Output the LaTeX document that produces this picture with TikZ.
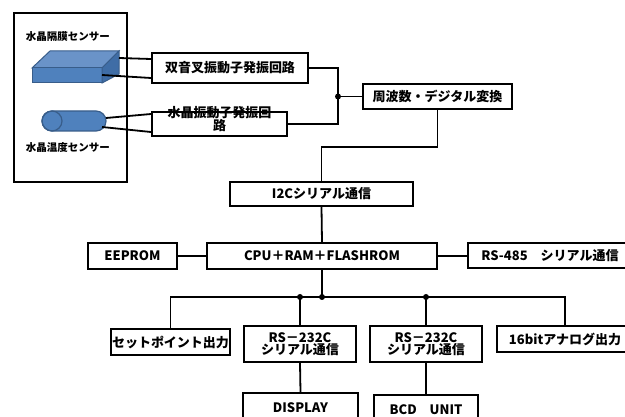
\documentclass[tikz,border=0pt]{standalone}
\usepackage{fontspec}
\setmainfont{Noto Sans CJK JP}
\definecolor{sensorblue}{HTML}{4F81BD}
\definecolor{sensortop}{HTML}{6A93C8}
\definecolor{sensorside}{HTML}{3F6DA6}
\definecolor{sensoredge}{HTML}{385D8A}
\tikzset{
  blk/.style={draw, line width=2pt, inner sep=0pt, font=\fontsize{13}{15}\selectfont\bfseries},
  wire/.style={line width=1.8pt},
  jdot/.style={circle, fill, inner sep=0pt, minimum size=6pt},
}
\begin{document}
\begin{tikzpicture}[x=1pt, y=-1pt]
  \useasboundingbox (0,0) rectangle (625,417);
  \clip (0,0) rectangle (625,417);
  \fill[white] (0,0) rectangle (625,417);

  % sensor housing
  \draw[line width=2pt] (14,13) rectangle (127,182);
  \node (lblDia) at (68,37) {\fontsize{10.5}{12}\selectfont\bfseries 水晶隔膜センサー};
  \node (lblTmp) at (68,148) {\fontsize{10.5}{12}\selectfont\bfseries 水晶温度センサー};

  % diaphragm sensor (flat block)
  \filldraw[fill=sensortop, draw=sensoredge, line width=1pt] (32,68) -- (50,51) -- (119,51) -- (102,68) -- cycle;
  \filldraw[fill=sensorblue, draw=sensoredge, line width=1pt] (32,68) rectangle (102,83);
  \filldraw[fill=sensorside, draw=sensoredge, line width=1pt] (102,68) -- (119,51) -- (119,74) -- (102,83) -- cycle;
  \coordinate (diaA) at (119,58);
  \coordinate (diaB) at (102,75);

  % temperature sensor (cylinder)
  \filldraw[fill=sensorblue, draw=sensoredge, line width=1.2pt] (52,111) -- (96,111)
    arc[start angle=-90, end angle=90, radius=10] -- (52,131)
    arc[start angle=90, end angle=270, radius=10] -- cycle;
  \draw[sensoredge, line width=1.2pt] (52,121) ellipse[x radius=10, y radius=10];
  \coordinate (tmpA) at (106,118);
  \coordinate (tmpB) at (102,127);

  % blocks
  \node[blk, minimum width=156, minimum height=30] (osc1) at (230,68) {双音叉振動子発振回路};
  \node[blk, minimum width=135, minimum height=24] (osc2) at (219.5,124)
    {\smash{\begin{tabular}{@{}c@{}}水晶振動子発振回\\[-3pt]路\end{tabular}}};
  \node[blk, minimum width=149, minimum height=25] (fdc) at (437.5,96.5) {周波数・デジタル変換};
  \node[blk, minimum width=183, minimum height=24] (i2c) at (321.5,194) {I2Cシリアル通信};
  \node[blk, minimum width=230, minimum height=26] (cpu) at (322,256) {CPU＋RAM＋FLASHROM};
  \node[blk, minimum width=89, minimum height=26] (eeprom) at (132.5,256) {EEPROM};
  \node[blk, minimum width=164, minimum height=25] (rs485) at (550,256) {RS-485　シリアル通信};
  \node[blk, minimum width=119, minimum height=26] (setp) at (170.5,342) {セットポイント出力};
  \node[blk, minimum width=112, minimum height=36, align=center] (rsA) at (300,344) {RS－232C\\[-3pt]シリアル通信};
  \node[blk, minimum width=112, minimum height=36, align=center] (rsB) at (426,344) {RS－232C\\[-3pt]シリアル通信};
  \node[blk, minimum width=136, minimum height=26] (anlg) at (565,339) {16bitアナログ出力};
  \node[blk, minimum width=115, minimum height=30] (disp) at (300.5,408) {DISPLAY};
  \node[blk, minimum width=104, minimum height=30] (bcd) at (426,410) {BCD　UNIT};

  % sensor leads
  \draw[wire] (diaA) -- ([yshift=9pt]osc1.west);
  \draw[wire] (diaB) -- ([yshift=-10pt]osc1.west);
  \draw[wire] (tmpA) -- ([yshift=10pt]osc2.west);
  \draw[wire] (tmpB) -- ([yshift=-8pt]osc2.west);

  % oscillators to converter
  \coordinate (jOsc) at (338,96.5);
  \draw[wire] (osc1.east) -| (jOsc |- osc2.east) -- (osc2.east);
  \draw[wire] (jOsc) -- (fdc.west);
  \node[jdot] (dOsc) at (jOsc) {};

  % converter down to the CPU
  \draw[wire] (fdc.south) -- ++(0,37) -| (i2c.north);
  \draw[wire] (i2c.south) -- (cpu.north);
  \draw[wire] (eeprom.east) -- (cpu.west);
  \draw[wire] (cpu.east) -- (rs485.west);

  % output bus
  \coordinate (bus) at (322,297);
  \draw[wire] (cpu.south) -- (bus);
  \draw[wire] (setp.north) -- (setp.north |- bus) -- (anlg.north |- bus) -- (anlg.north);
  \draw[wire] (rsA.north) -- (rsA.north |- bus);
  \draw[wire] (rsB.north) -- (rsB.north |- bus);
  \node[jdot] (dA) at (rsA.north |- bus) {};
  \node[jdot] (dC) at (bus) {};
  \node[jdot] (dB) at (rsB.north |- bus) {};
  \draw[wire] (rsA.south) -- (disp.north);
  \draw[wire] (rsB.south) -- (bcd.north);
\end{tikzpicture}
\end{document}
